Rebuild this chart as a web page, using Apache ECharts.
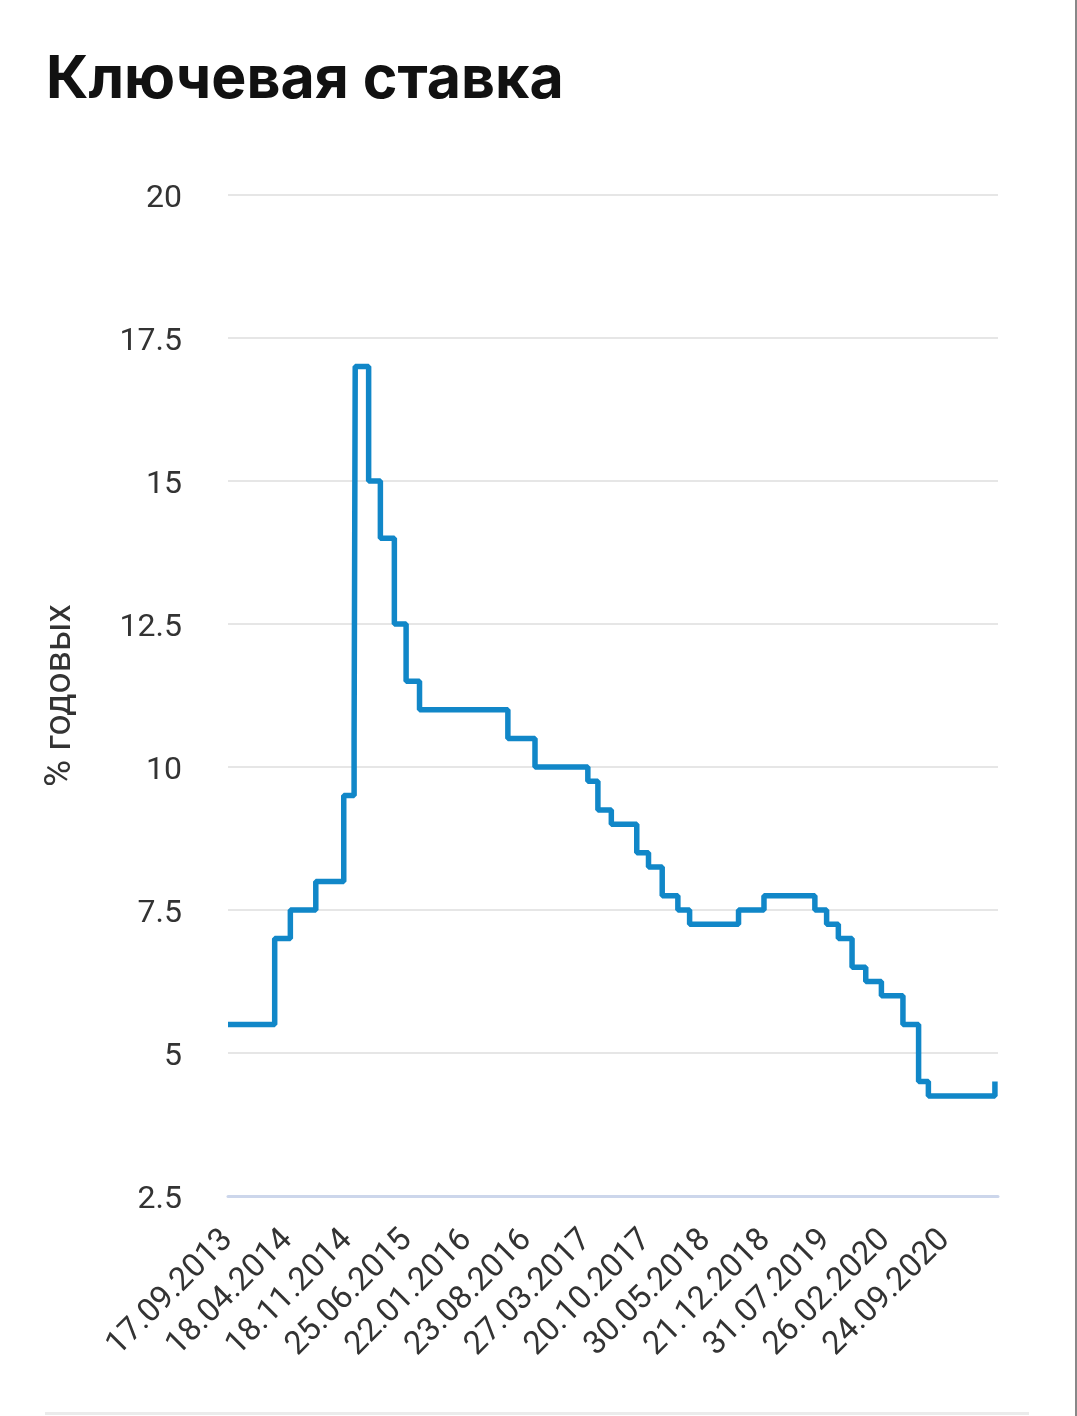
<!DOCTYPE html>
<html><head><meta charset="utf-8">
<script src="https://cdn.jsdelivr.net/npm/echarts@6/dist/echarts.min.js"></script>
<style>html,body{margin:0;padding:0;background:#fff}#c{width:1077px;height:1416px}</style>
</head><body><div id="c"></div>
<script>
// Dates of key-rate changes (dd.mm.yyyy) and the rate in force from that date
const changeDates = ['17.09.2013','03.03.2014','28.04.2014','28.07.2014','05.11.2014','12.12.2014','16.12.2014',
  '02.02.2015','16.03.2015','05.05.2015','16.06.2015','03.08.2015','14.06.2016','19.09.2016','27.03.2017',
  '02.05.2017','19.06.2017','18.09.2017','30.10.2017','18.12.2017','12.02.2018','26.03.2018','17.09.2018',
  '17.12.2018','17.06.2019','29.07.2019','09.09.2019','28.10.2019','16.12.2019','10.02.2020','27.04.2020',
  '22.06.2020','27.07.2020','22.03.2021'];
const rates = [5.5,7,7.5,8,9.5,10.5,17,15,14,12.5,11.5,11,10.5,10,9.75,9.25,9,8.5,8.25,7.75,7.5,7.25,7.5,
  7.75,7.5,7.25,7,6.5,6.25,6,5.5,4.5,4.25,4.5];
const tickLabels = ['17.09.2013','18.04.2014','18.11.2014','25.06.2015','22.01.2016','23.08.2016','27.03.2017',
  '20.10.2017','30.05.2018','21.12.2018','31.07.2019','26.02.2020','24.09.2020'];
const axisEndDate = '02.04.2021';
const yMin = 2.5, yMax = 20, yStep = 2.5;

function toDay(s){
  const p = s.split('.');
  return Date.UTC(+p[2], +p[1]-1, +p[0]) / 86400000;
}
const day0 = toDay(tickLabels[0]);
const lastTickDay = toDay(tickLabels[tickLabels.length-1]) - day0;
const xInterval = lastTickDay / (tickLabels.length - 1);
const seriesData = changeDates.map((d,i)=>[toDay(d)-day0, rates[i]]);

const font = 'Roboto, "Noto Sans", sans-serif';
const chart = echarts.init(document.getElementById('c'), null, {renderer:'canvas'});
chart.setOption({
  backgroundColor:'#fff',
  animation:false,
  title:{text:'Ключевая ставка', left:41, top:46,
    textStyle:{fontFamily:'Inter, Roboto, sans-serif', fontWeight:700, fontSize:59, color:'#111'}},
  grid:{left:228, right:79, top:195, bottom:220, containLabel:false},
  xAxis:{type:'value', min:0, max:toDay(axisEndDate)-day0, interval:xInterval,
    axisLine:{show:true, lineStyle:{color:'#ccd6eb', width:3}},
    axisTick:{show:false}, splitLine:{show:false},
    axisLabel:{rotate:45, margin:39, fontFamily:font, fontSize:32.5, color:'#333',
      formatter:function(v){const k=v/xInterval; const r=Math.round(k);
        if(Math.abs(k-r)>0.01) return ''; return tickLabels[r]||'';}}},
  yAxis:{type:'value', min:yMin, max:yMax, interval:yStep,
    name:'% годовых', nameLocation:'middle', nameGap:149,
    nameTextStyle:{fontFamily:font, fontSize:37, color:'#333'},
    axisLine:{show:false}, axisTick:{show:false},
    splitLine:{lineStyle:{color:'#e6e6e6', width:2}},
    axisLabel:{margin:46, fontFamily:font, fontSize:32, color:'#333', verticalAlign:'top', lineHeight:8}},
  series:[{type:'line', step:'end', data:seriesData, showSymbol:false, symbol:'none',
    lineStyle:{color:'#1187c8', width:5.5}}],
  graphic:[
    {type:'rect', shape:{x:45, y:1412, width:984, height:3}, style:{fill:'#ebebeb'}},
    {type:'rect', shape:{x:1075, y:0, width:2, height:1416}, style:{fill:'#888'}}
  ]
});
</script></body></html>
